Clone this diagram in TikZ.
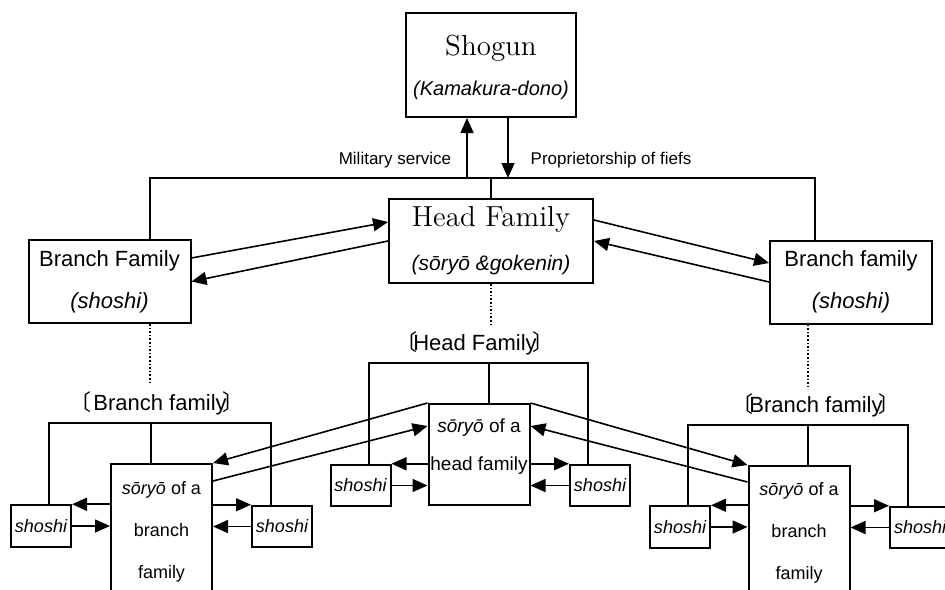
\documentclass[tikz,border=0pt]{standalone}
\usepackage{fontspec}
\setsansfont{Liberation Sans}
\newfontfamily\cjk{Noto Sans CJK SC}
\usetikzlibrary{arrows.meta}
\usetikzlibrary{positioning}
\newcommand\openbr{{\cjk 〔}\kern-2pt}
\newcommand\closebr{\kern-2pt{\cjk 〕}}

\begin{document}
\begin{tikzpicture}[x=0.5pt, y=-0.5pt, line width=0.8pt,
    box/.style={draw, line width=1pt, inner sep=0pt, align=center},
    arr/.style={-{Triangle[length=7.5pt,width=6.5pt]}},
    lab/.style={font=\sffamily\fontsize{8.5}{10}\selectfont},
    grp/.style={font=\sffamily\fontsize{11}{13}\selectfont},
    branch/.style={box, minimum width=81pt, minimum height=41.5pt, font=\sffamily\fontsize{11}{21}\selectfont},
    soryo/.style={box, minimum width=50.5pt, font=\sffamily\fontsize{9}{21}\selectfont},
    shoshi/.style={box, minimum width=30pt, minimum height=20.75pt, font=\sffamily\itshape\fontsize{9}{11}\selectfont}]
    \useasboundingbox (0,0) rectangle (945,589);

    \node[box, minimum width=85pt, minimum height=52pt, text depth=-2pt, font=\sffamily\fontsize{10}{20}\selectfont] (shogun) at (491,65)
        {{\rmfamily\addfontfeature{LetterSpace=6}\fontsize{14.5}{20}\selectfont Shogun}\\\itshape (Kamakura-dono)};
    \node[box, minimum width=102pt, minimum height=42pt, font=\sffamily\itshape\fontsize{10.5}{22}\selectfont] (head) at (491,241)
        {{\rmfamily\upshape\fontsize{14.5}{22}\selectfont Head Family}\\(sōryō \&gokenin)};
    \node[branch] (lbr) at (109.5,281.5) {Branch Family\\\textit{(shoshi)}};
    \node[branch] (rbr) at (851,282) {Branch family\\\textit{(shoshi)}};

    \node[lab] (mil) at (395,160) {Military service};
    \node[lab] (fief) at (611,160) {Proprietorship of fiefs};

    \coordinate (busl) at (150,178);
    \coordinate (busr) at (815,178);
    \coordinate (up) at (467,178);
    \coordinate (down) at (508,178);
    \draw (lbr.north -| busl) -- (busl) -- (busr) -- (rbr.north -| busr);
    \draw (head.north) -- (head.north |- busl);
    \draw[arr] (up) -- (up |- shogun.south);
    \draw[arr] (shogun.south -| down) -- (down);

    \draw[arr] ([yshift=11.75pt]lbr.east) -- ([yshift=9.5pt]head.west);
    \draw[arr] (head.west) -- (lbr.east);
    \draw[arr] ([yshift=10.5pt]head.east) -- ([yshift=9.5pt]rbr.west);
    \draw[arr] (rbr.west) -- (head.east);

    \node[grp] (llab) at (157,403) {\openbr\ Branch family\closebr};
    \node[grp] (hlab) at (475,343) {\openbr Head Family\closebr};
    \node[grp] (rlab) at (816,405) {\openbr Branch family\closebr};

    \node[soryo, minimum height=68pt] (lsor) at (161.5,532) {\textit{sōryō} of a\\branch\\family};
    \node[soryo, minimum height=50.5pt, text depth=10pt, font=\sffamily\fontsize{9.5}{19}\selectfont] (hsor) at (479,454.5) {\textit{sōryō} of a\\head family};
    \node[soryo, minimum height=67pt] (rsor) at (799,533) {\textit{sōryō} of a\\branch\\family};

    \node[shoshi] (lsl) at (41,526) {shoshi};
    \node[shoshi] (lsr) at (282,526.5) {shoshi};
    \node[shoshi] (hsl) at (360.5,485.5) {shoshi};
    \node[shoshi] (hsr) at (600,485.5) {shoshi};
    \node[shoshi] (rsl) at (680,527) {shoshi};
    \node[shoshi] (rsr) at (920,527.5) {shoshi};

    \draw[densely dotted] (lbr.south -| busl) -- (llab.north -| busl);
    \draw[densely dotted] (head.south) -- (head.south |- hlab.north);
    \coordinate (rbm) at (808,425);
    \draw[densely dotted] (rbr.south -| rbm) -- (rlab.north -| rbm);

    \coordinate (lbl) at (49,423);
    \coordinate (lbm) at (151,423);
    \coordinate (lbrr) at (271,423);
    \draw (lsl.north -| lbl) -- (lbl) -- (lbrr) -- (lsr.north -| lbrr);
    \draw (lbm) -- (lsor.north -| lbm);
    \coordinate (hbl) at (369,363);
    \coordinate (hbm) at (489,363);
    \coordinate (hbr) at (588,363);
    \draw (hsl.north -| hbl) -- (hbl) -- (hbr) -- (hsr.north -| hbr);
    \draw (hbm) -- (hsor.north -| hbm);
    \coordinate (rbl) at (688,425);
    \coordinate (rbrr) at (908,425);
    \draw (rsl.north -| rbl) -- (rbl) -- (rbrr) -- (rsr.north -| rbrr);
    \draw (rbm) -- (rsor.north -| rbm);

    \draw[arr] (lsor.west |- lsl.north) -- (lsl.north east);
    \draw[arr] (lsl.east) -- (lsl.east -| lsor.west);
    \draw[arr] (lsor.east |- lsr.north) -- (lsr.north west);
    \draw[arr] (lsr.west) -- (lsr.west -| lsor.east);
    \draw[arr] (hsor.west |- hsl.north) -- (hsl.north east);
    \draw[arr] (hsl.east) -- (hsl.east -| hsor.west);
    \draw[arr] (hsor.east |- hsr.north) -- (hsr.north west);
    \draw[arr] (hsr.west) -- (hsr.west -| hsor.east);
    \draw[arr] (rsor.west |- rsl.north) -- (rsl.north east);
    \draw[arr] (rsl.east) -- (rsl.east -| rsor.west);
    \draw[arr] (rsor.east |- rsr.north) -- (rsr.north west);
    \draw[arr] (rsr.west) -- (rsr.west -| rsor.east);

    \draw[arr] (hsor.north west) -- (lsor.north east);
    \draw[arr] ([yshift=-9pt]lsor.north east) -- ([yshift=-11.5pt]hsor.north west);
    \draw[arr] (hsor.north east) -- (rsor.north west);
    \draw[arr] ([yshift=-8.5pt]rsor.north west) -- ([yshift=-11.5pt]hsor.north east);
\end{tikzpicture}
\end{document}
